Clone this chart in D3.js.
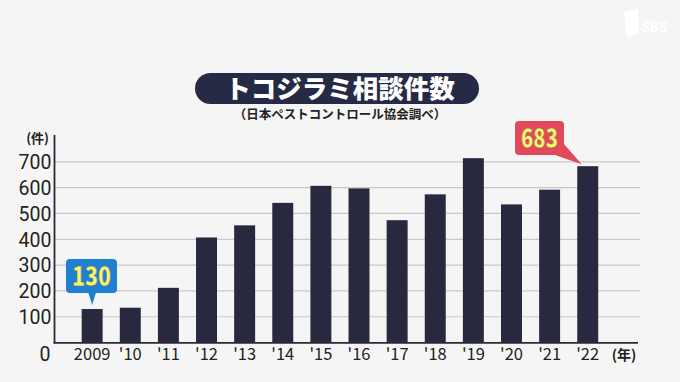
<!DOCTYPE html>
<html><head><meta charset="utf-8">
<script src="https://cdn.jsdelivr.net/npm/d3@7/dist/d3.min.js"></script>
<style>
html,body{margin:0;padding:0;background:#f5f5f5;}
svg{display:block;font-family:"Noto Sans CJK JP","Noto Sans",sans-serif;}
</style></head>
<body>
<svg id="c" width="680" height="382"></svg>
<script>
const years = ["2009","2010","2011","2012","2013","2014","2015","2016","2017","2018","2019","2020","2021","2022"];
const xLabels = ["2009","'10","'11","'12","'13","'14","'15","'16","'17","'18","'19","'20","'21","'22"];
const counts = [130,135,212,407,454,541,607,597,474,574,714,535,592,683];
const yTicks = [0,100,200,300,400,500,600,700];
const title = "トコジラミ相談件数";
const subtitle = "（日本ペストコントロール協会調べ）";
const yUnit = "(件)";
const xUnit = "(年)";

const svg = d3.select("#c");
svg.append("rect").attr("width",680).attr("height",382).attr("fill","#f5f5f5");

const x = d3.scaleBand().domain(years).range([73.1,606.8]).paddingInner(0.45).paddingOuter(0.225);
const y = d3.scaleLinear().domain([0,700]).range([342.6,161.8]);

// gridlines
svg.append("g").selectAll("line").data(yTicks.filter(d=>d>0)).join("line")
  .attr("x1",55).attr("x2",640).attr("y1",d=>y(d)).attr("y2",d=>y(d))
  .attr("stroke","#c8c8c8").attr("stroke-width",1.2);

// bars
svg.append("g").selectAll("rect").data(years).join("rect")
  .attr("x",d=>x(d)).attr("width",x.bandwidth())
  .attr("y",(d,i)=>y(counts[i])).attr("height",(d,i)=>y(0)-y(counts[i]))
  .attr("fill","#28293f");

// y axis
const yAxis = svg.append("g").attr("transform","translate(54.5,0)")
  .call(d3.axisLeft(y).tickValues(yTicks).tickSize(0).tickPadding(3));
yAxis.select(".domain").remove();
yAxis.selectAll("text").attr("font-size",19.5).attr("fill","#222")
  .attr("font-family","Roboto,'Noto Sans',sans-serif")
  .attr("dy",d=>d===0?"0.9em":"0.35em").attr("dx",d=>d===0?"-1":"0");
svg.append("line").attr("x1",54.5).attr("x2",54.5).attr("y1",135).attr("y2",343.5)
  .attr("stroke","#2a2a35").attr("stroke-width",1.8);

// x axis
const xAxis = svg.append("g").attr("transform",`translate(0,${y(0)})`)
  .call(d3.axisBottom(x).tickSize(0).tickPadding(6).tickFormat((d,i)=>xLabels[i]));
xAxis.select(".domain").remove();
xAxis.selectAll("text").attr("font-size",16.5).attr("fill","#222")
  .attr("font-family","'Noto Sans CJK JP',sans-serif");
svg.append("line").attr("x1",53.6).attr("x2",638).attr("y1",342.8).attr("y2",342.8)
  .attr("stroke","#2a2a35").attr("stroke-width",1.8);

svg.append("text").attr("x",49).attr("y",143).attr("text-anchor","end")
  .attr("font-size",13).attr("font-weight","bold").attr("fill","#222").text(yUnit);
svg.append("text").attr("x",624).attr("y",360).attr("text-anchor","middle")
  .attr("font-size",14).attr("font-weight","bold").attr("fill","#222").text(xUnit);

// title pill
svg.append("rect").attr("x",195).attr("y",73).attr("width",284).attr("height",31).attr("rx",15.5)
  .attr("fill","#272a44");
svg.append("text").attr("x",340).attr("y",98).attr("text-anchor","middle")
  .attr("font-size",25.5).attr("font-weight","900").attr("fill","#fff").text(title);
svg.append("text").attr("x",340).attr("y",119).attr("text-anchor","middle")
  .attr("font-size",12.5).attr("font-weight","bold").attr("fill","#222").text(subtitle);

// callouts
function callout(i, color, box, tri){
  const g = svg.append("g");
  g.append("path").attr("d",d3.line()(tri)).attr("fill",color);
  g.append("rect").attr("x",box[0]).attr("y",box[1]).attr("width",box[2]).attr("height",box[3]).attr("rx",4).attr("fill",color);
  g.append("text").attr("x",box[0]+box[2]/2).attr("y",box[1]+box[3]/2+9.5)
    .attr("text-anchor","middle").attr("font-size",27).attr("font-weight","900")
    .attr("fill","#f6f478").attr("stroke","#7a6a30").attr("stroke-width",0.4)
    .attr("textLength",box[2]-12).attr("lengthAdjust","spacingAndGlyphs")
    .text(counts[i]);
}
const c0 = x(years[0]) + x.bandwidth()/2;
callout(0, "#1f80d2", [66,259,51,34], [[c0-4,292],[c0,y(counts[0])-4],[c0+4,292]]);
const c13 = x(years[13]) + x.bandwidth()/2;
callout(13, "#e2495b", [515,121,49,34], [[552,154],[563,143],[c13-6,y(counts[13])-2]]);

// logo
const lg = svg.append("g").attr("fill","#fff");
lg.append("path").attr("d","M624,12 L638,8 L638,34 L627,38 Z").attr("opacity",0.95);
lg.append("text").attr("x",641).attr("y",32).attr("font-size",14).attr("font-weight","bold").attr("font-family","Roboto,sans-serif").text("SBS");
</script>
</body></html>
